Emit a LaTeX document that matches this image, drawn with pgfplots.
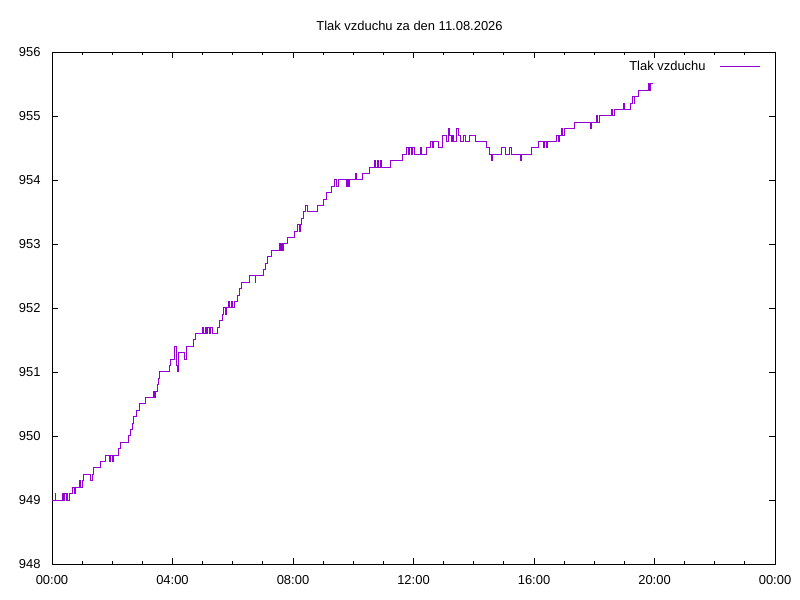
\documentclass[border=0pt]{standalone}
\usepackage{fontspec}
\setmainfont{Liberation Sans}
\usepackage{pgfplots}
\pgfplotsset{compat=1.18}
\definecolor{gpviolet}{RGB}{148,0,211}
\begin{document}
\fontsize{13}{15}\selectfont
\begin{tikzpicture}
\path[use as bounding box] (-52bp,-36bp) rectangle (748bp,564bp);
\node[font=\fontsize{13}{15}\selectfont, anchor=center] at (357.5bp,538bp) {Tlak vzduchu za den 11.08.2026};
\begin{axis}[
  at={(0bp,0bp)}, anchor=south west,
  scale only axis, width=723bp, height=512bp,
  xmin=0, xmax=24, ymin=948, ymax=956,
  xtick={0,4,8,12,16,20,24},
  xticklabels={00:00,04:00,08:00,12:00,16:00,20:00,00:00},
  minor x tick num=3,
  ytick={948,949,...,956},
  tick align=inside,
  major tick length=6bp, minor tick length=3bp,
  every tick/.style={black, line width=0.8bp},
  axis line style={line width=0.8bp},
  /pgf/number format/assume math mode=true,
  /pgf/number format/.cd, 1000 sep={}, /pgfplots/.cd,
  ticklabel style={font=\fontsize{13}{15}\selectfont},
  xticklabel style={yshift=-7bp},
  yticklabel style={xshift=-7bp},
  legend plot pos=right,
  legend style={at={(rel axis cs:0.979,0.971)}, anchor=east, draw=none, fill=none,
    inner sep=0pt, font=\fontsize{13}{15}\selectfont},
  legend image code/.code={\path (0bp,0bp); \draw[#1] (12bp,0bp) -- (51bp,0bp);},
]
\addplot[const plot, color=gpviolet, line width=1bp, line cap=rect] coordinates {
(0.00,949.0) (0.10,949.1) (0.13,949.0) (0.35,949.1) (0.39,949.0) (0.43,949.1)
(0.47,949.0) (0.49,949.1) (0.52,949.0) (0.575,949.1) (0.664,949.2) (0.75,949.1)
(0.79,949.2) (0.90,949.3) (0.93,949.2) (1.02,949.3) (1.05,949.4) (1.28,949.3)
(1.33,949.4) (1.38,949.5) (1.60,949.6) (1.76,949.7) (1.90,949.6) (1.94,949.7)
(2.00,949.6) (2.05,949.7) (2.20,949.8) (2.27,949.9) (2.53,950.0) (2.60,950.1)
(2.66,950.2) (2.72,950.3) (2.79,950.4) (2.92,950.5) (3.12,950.6) (3.36,950.7)
(3.40,950.6) (3.44,950.7) (3.50,950.8) (3.54,950.9) (3.585,951.0) (3.895,951.1)
(3.95,951.2) (4.06,951.4) (4.13,951.1) (4.17,951.0) (4.20,951.3) (4.39,951.2)
(4.47,951.4) (4.71,951.5) (4.76,951.6) (5.00,951.7) (5.03,951.6) (5.08,951.7)
(5.12,951.6) (5.17,951.7) (5.22,951.6) (5.27,951.7) (5.33,951.6) (5.49,951.7)
(5.55,951.8) (5.65,951.9) (5.70,952.0) (5.76,951.9) (5.80,952.0) (5.86,952.1)
(5.90,952.0) (5.95,952.1) (6.00,952.0) (6.05,952.1) (6.15,952.2) (6.22,952.3)
(6.30,952.4) (6.55,952.5) (6.74,952.4) (6.77,952.5) (7.02,952.6) (7.10,952.7)
(7.15,952.8) (7.27,952.9) (7.55,953.0) (7.58,952.9) (7.62,953.0) (7.66,952.9)
(7.70,953.0) (7.81,953.1) (8.04,953.2) (8.16,953.3) (8.20,953.2) (8.24,953.3)
(8.27,953.4) (8.35,953.5) (8.42,953.6) (8.48,953.5) (8.81,953.6) (9.01,953.7)
(9.12,953.8) (9.28,953.9) (9.39,954.0) (9.43,953.9) (9.50,954.0) (9.76,953.9)
(9.80,954.0) (9.84,953.9) (9.89,954.0) (10.06,954.1) (10.11,954.0) (10.30,954.1)
(10.53,954.2) (10.69,954.3) (10.74,954.2) (10.79,954.3) (10.84,954.2) (10.89,954.3)
(10.94,954.2) (11.25,954.3) (11.64,954.4) (11.77,954.5) (11.82,954.4) (11.87,954.5)
(11.92,954.4) (11.97,954.5) (12.02,954.4) (12.22,954.5) (12.26,954.4) (12.44,954.5)
(12.57,954.6) (12.62,954.5) (12.68,954.6) (12.82,954.5) (12.97,954.7) (13.08,954.6)
(13.16,954.8) (13.21,954.7) (13.26,954.6) (13.30,954.7) (13.34,954.6) (13.43,954.8)
(13.49,954.7) (13.57,954.6) (13.65,954.7) (13.71,954.6) (13.85,954.7) (14.07,954.6)
(14.41,954.5) (14.52,954.4) (14.59,954.3) (14.63,954.4) (14.93,954.5) (15.04,954.4)
(15.20,954.5) (15.26,954.4) (15.54,954.3) (15.57,954.4) (15.92,954.5) (16.14,954.6)
(16.31,954.5) (16.36,954.6) (16.40,954.5) (16.45,954.6) (16.75,954.7) (16.80,954.6)
(16.85,954.7) (16.92,954.8) (16.96,954.7) (17.00,954.8) (17.33,954.9) (17.86,954.8)
(17.90,954.9) (18.08,955.0) (18.12,954.9) (18.19,955.0) (18.58,955.1) (18.62,955.0)
(18.66,955.1) (18.97,955.2) (19.01,955.1) (19.19,955.2) (19.28,955.3) (19.32,955.2)
(19.35,955.3) (19.46,955.4) (19.80,955.5) (19.84,955.4) (19.86,955.5) (19.93,955.5)
};
\addlegendentry{Tlak vzduchu}
\end{axis}
\end{tikzpicture}
\end{document}
